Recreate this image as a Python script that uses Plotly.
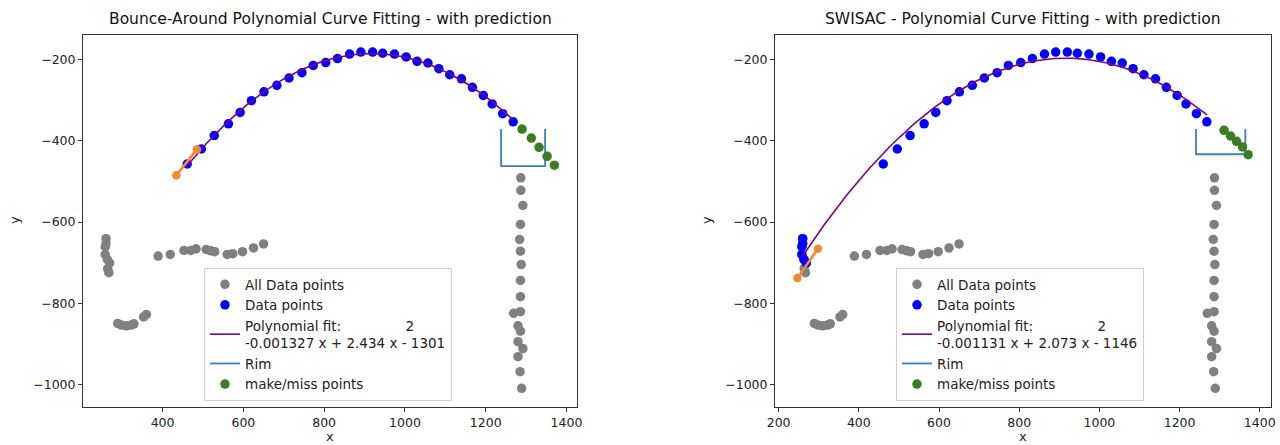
import numpy as np
import plotly.graph_objects as go

# ---------------- data ----------------
# all detected points (same in both panels)
gray_x = [260, 260, 258, 258, 263, 269, 264, 267,
          389, 419, 453, 470, 483, 508, 520, 529, 560, 574, 598, 625, 650,
          289, 298, 310, 322, 329, 353, 360,
          1287, 1287, 1292, 1286, 1284, 1286, 1288, 1286, 1286, 1286, 1269, 1280,
          1286, 1280, 1292, 1280, 1285, 1289]
gray_y = [-641, -653, -661, -680, -692, -701, -715, -725,
          -684, -680, -670, -670, -666, -668, -671, -673, -680, -678, -673, -664, -654,
          -850, -854, -856, -854, -851, -834, -828,
          -491, -522, -559, -606, -643, -672, -705, -744, -784, -821, -825, -856,
          -869, -895, -912, -932, -969, -1010]

# arc points of the shot
arc_x = [461, 496, 528, 563, 592, 620, 651, 683, 713, 745, 773, 804, 833, 863, 891,
         920, 945, 974, 1003, 1030, 1057, 1084, 1111, 1140, 1167, 1194, 1216, 1242, 1268]
arc_y = [-457, -420, -387, -358, -330, -301, -279, -263, -245, -232, -214, -207, -197,
         -186, -181, -181, -184, -186, -193, -204, -208, -222, -237, -247, -268, -288,
         -309, -333, -353]

# extra points picked by SWISAC near the release
swisac_extra_x = [260, 260, 258, 258, 263, 269]
swisac_extra_y = [-641, -653, -661, -680, -692, -701]

# polynomial coefficients (highest power first)
coef_left = [-0.001327, 2.434, -1301]
coef_right = [-0.001131, 2.073, -1146]
label_left = "Polynomial fit:" + "\u00a0" * 15 + "2<br>-0.001327 x + 2.434 x - 1301"
label_right = "Polynomial fit:" + "\u00a0" * 15 + "2<br>-0.001131 x + 2.073 x - 1146"

# prediction segments (orange)
pred_left_x = [434, 485]
pred_left_y = [-485, -421]
pred_right_x = [247, 298]
pred_right_y = [-738, -666]

# make/miss points
green_left_x = [1290, 1313, 1332, 1352, 1370]
green_left_y = [-371, -393, -416, -438, -460]
green_right_x = [1311, 1327, 1342, 1357, 1371]
green_right_y = [-374, -388, -401, -415, -434]

# rim outlines
rim_left_x = [1238, 1238, 1347, 1347]
rim_left_y = [-371, -462, -462, -371]
rim_right_x = [1241, 1241, 1364, 1364]
rim_right_y = [-371, -433, -433, -371]

titles = ["Bounce-Around Polynomial Curve Fitting - with prediction",
          "SWISAC - Polynomial Curve Fitting - with prediction"]

# ---------------- styling ----------------
FONT = "DejaVu Sans"
C_GRAY = "#808080"
C_BLUE = "#0000ff"
C_PURPLE = "#800080"
C_RIM = "#3f7fbf"
C_GREEN = "#3a7d22"
C_ORANGE = "#f28a30"
MS = 9.5

fig = go.Figure()


def add_panel(xa, ya, legend, blue_x, blue_y, coef, label, px, py, gx, gy, rx, ry):
    fig.add_trace(go.Scatter(x=gray_x, y=gray_y, mode="markers", name="All Data points",
                             marker=dict(color=C_GRAY, size=MS), xaxis=xa, yaxis=ya,
                             legend=legend))
    fig.add_trace(go.Scatter(x=blue_x, y=blue_y, mode="markers", name="Data points",
                             marker=dict(color=C_BLUE, size=MS), xaxis=xa, yaxis=ya,
                             legend=legend))
    fx = np.linspace(min(blue_x), max(blue_x), 200)
    fy = np.polyval(coef, fx)
    fig.add_trace(go.Scatter(x=fx, y=fy, mode="lines", name=label,
                             line=dict(color=C_PURPLE, width=1.6), xaxis=xa, yaxis=ya,
                             legend=legend))
    fig.add_trace(go.Scatter(x=rx, y=ry, mode="lines", name="Rim",
                             line=dict(color=C_RIM, width=1.8), xaxis=xa, yaxis=ya,
                             legend=legend))
    fig.add_trace(go.Scatter(x=gx, y=gy, mode="markers", name="make/miss points",
                             marker=dict(color=C_GREEN, size=MS), xaxis=xa, yaxis=ya,
                             legend=legend))
    fig.add_trace(go.Scatter(x=px, y=py, mode="lines+markers", showlegend=False,
                             line=dict(color=C_ORANGE, width=2.6),
                             marker=dict(color=C_ORANGE, size=8.5), xaxis=xa, yaxis=ya))


add_panel("x", "y", "legend", arc_x, arc_y, coef_left, label_left,
          pred_left_x, pred_left_y, green_left_x, green_left_y, rim_left_x, rim_left_y)
add_panel("x2", "y2", "legend2", swisac_extra_x + arc_x, swisac_extra_y + arc_y,
          coef_right, label_right, pred_right_x, pred_right_y,
          green_right_x, green_right_y, rim_right_x, rim_right_y)

W, H = 1280, 445
dom_x1 = [83 / W, 577 / W]
dom_x2 = [775 / W, 1271 / W]
dom_y = [1 - 407 / H, 1 - 35 / H]

axis_common = dict(showline=True, mirror=True, linecolor="#333333", linewidth=1,
                   ticks="outside", ticklen=4, tickcolor="#333333", tickwidth=1,
                   showgrid=False, zeroline=False, automargin=False,
                   tickfont=dict(family=FONT, size=12.5, color="#222222"))

yt = [-1000, -800, -600, -400, -200]
yl = ["\u22121000", "\u2212800", "\u2212600", "\u2212400", "\u2212200"]

legend_common = dict(xanchor="left", yanchor="top",
                     bgcolor="rgba(255,255,255,0.85)", bordercolor="#d0d0d0", borderwidth=1,
                     font=dict(family=FONT, size=13.5, color="#222222"))

fig.update_layout(
    width=W, height=H,
    margin=dict(l=0, r=0, t=0, b=0, pad=0, autoexpand=False),
    paper_bgcolor="white", plot_bgcolor="white",
    font=dict(family=FONT, color="#222222"),
    xaxis=dict(domain=dom_x1, range=[203, 1426], anchor="y",
               tickvals=[400, 600, 800, 1000, 1200, 1400], **axis_common),
    yaxis=dict(domain=dom_y, range=[-1056, -139], anchor="x",
               tickvals=yt, ticktext=yl, **axis_common),
    xaxis2=dict(domain=dom_x2, range=[191, 1428], anchor="y2",
                tickvals=[200, 400, 600, 800, 1000, 1200, 1400], **axis_common),
    yaxis2=dict(domain=dom_y, range=[-1056, -139], anchor="x2",
                tickvals=yt, ticktext=yl, **axis_common),
    legend=dict(x=204 / W, y=1 - 268 / H, **legend_common),
    legend2=dict(x=896 / W, y=1 - 268 / H, **legend_common),
    showlegend=True,
)

ann = []
for dom, t in zip([dom_x1, dom_x2], titles):
    cx = (dom[0] + dom[1]) / 2
    ann.append(dict(text=t, x=cx, y=1 - 19 / H, xref="paper", yref="paper",
                    xanchor="center", yanchor="middle", showarrow=False,
                    font=dict(family=FONT, size=15.5, color="#111111")))
    ann.append(dict(text="x", x=cx, y=1 - 436 / H, xref="paper", yref="paper",
                    xanchor="center", yanchor="middle", showarrow=False,
                    font=dict(family=FONT, size=13, color="#222222")))
for xp in [14, 706]:
    ann.append(dict(text="y", x=xp / W, y=1 - 220 / H, xref="paper", yref="paper",
                    xanchor="center", yanchor="middle", showarrow=False, textangle=-90,
                    font=dict(family=FONT, size=13, color="#222222")))
fig.update_layout(annotations=ann)

fig.write_html("out.html",
               config={"displayModeBar": False},
               post_script="document.body.style.margin='0px';"
                           "document.body.style.overflow='hidden';")
